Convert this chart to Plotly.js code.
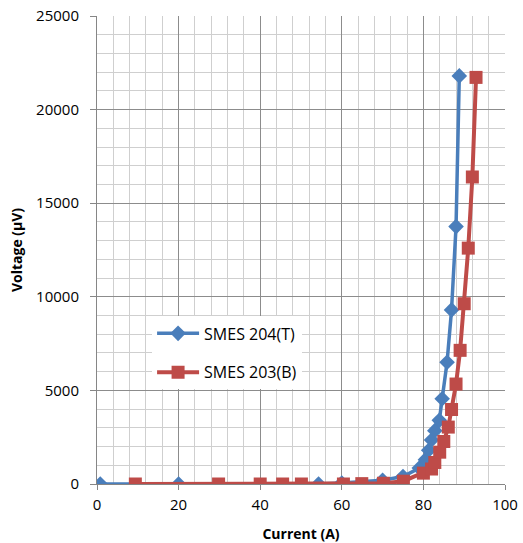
<!DOCTYPE html>
<html>
<head>
<meta charset="utf-8">
<script src="https://cdn.plot.ly/plotly-3.0.1.min.js"></script>
<style>html,body{margin:0;padding:0;background:#fff;}#chart{width:523px;height:543px;}</style>
</head>
<body>
<div id="chart"></div>
<script>
const seriesNames = ["SMES 204(T)", "SMES 203(B)"];
const currentT = [0.8, 20, 54.3, 60, 70, 75, 79, 80.5, 81.3, 82, 82.8, 83.9, 84.6, 85.8, 86.9, 88, 88.8];
const voltageT = [0, 0, 0, 50, 200, 400, 850, 1300, 1800, 2350, 2850, 3400, 4550, 6500, 9300, 13750, 21800];
const currentB = [9.4, 29.8, 40, 45.5, 50.1, 60.4, 64.9, 70.2, 75.1, 80, 82, 82.8, 84, 85, 86.1, 86.9, 88, 89, 90, 91, 92, 92.9];
const voltageB = [0, 0, 0, 0, 0, 0, 20, 40, 150, 580, 800, 1150, 1700, 2270, 3040, 3980, 5340, 7140, 9630, 12600, 16400, 21720];

const fontFam = "Open Sans, Liberation Sans, sans-serif";
const traces = [
  {x: currentT, y: voltageT, name: seriesNames[0], legendgroup: "t", mode: "lines+markers", type: "scatter",
   line: {color: "#4A7EBB", width: 3.5}, marker: {symbol: "diamond", size: 12, color: "#4A7EBB"}},
  {x: currentB, y: voltageB, name: seriesNames[1], legendgroup: "b", mode: "lines+markers", type: "scatter",
   line: {color: "#BE4B48", width: 4}, marker: {symbol: "square", size: 13, color: "#BE4B48"}}
];
const layout = {
  width: 523, height: 543,
  margin: {l: 97, r: 18, t: 16, b: 59},
  paper_bgcolor: "#fff", plot_bgcolor: "#fff",
  font: {family: fontFam, size: 15, color: "#000"},
  showlegend: true,
  legend: {x: 0.135, y: 0.358, xanchor: "left", yanchor: "top", bgcolor: "#fff",
           traceorder: "grouped", tracegroupgap: 15,
           font: {family: fontFam, size: 16, color: "#000"}, itemwidth: 42},
  xaxis: {range: [0, 100], dtick: 20, tick0: 0, showgrid: true, gridcolor: "#8c8c8c", gridwidth: 1,
          zeroline: false, showline: true, linecolor: "#868686", linewidth: 1,
          ticks: "outside", ticklen: 5, tickcolor: "#868686", ticklabelstandoff: 2,
          minor: {dtick: 4, showgrid: true, gridcolor: "#cfcfcf", gridwidth: 1},
          tickfont: {family: fontFam, size: 15},
          title: {text: "<b>Current (A)</b>", font: {family: fontFam, size: 14}, standoff: 16}},
  yaxis: {range: [0, 25000], dtick: 5000, tick0: 0, tickformat: "d", showgrid: true, gridcolor: "#8c8c8c", gridwidth: 1,
          zeroline: false, showline: true, linecolor: "#868686", linewidth: 1,
          ticks: "outside", ticklen: 6, tickcolor: "#868686", ticklabelstandoff: 8,
          minor: {dtick: 1000, showgrid: true, gridcolor: "#cfcfcf", gridwidth: 1},
          tickfont: {family: fontFam, size: 15},
          title: {text: "<b>Voltage (μV)</b>", font: {family: fontFam, size: 14}, standoff: 10}}
};
Plotly.newPlot("chart", traces, layout, {displayModeBar: false, staticPlot: true});
</script>
</body>
</html>
